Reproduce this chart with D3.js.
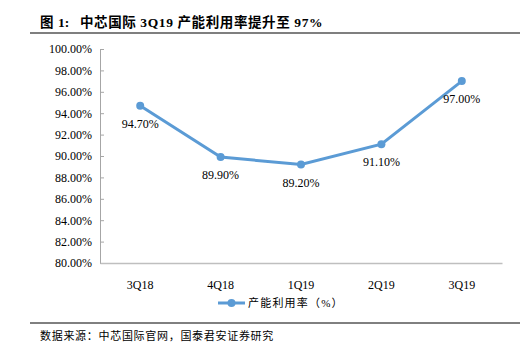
<!DOCTYPE html>
<html>
<head>
<meta charset="utf-8">
<script src="https://cdn.jsdelivr.net/npm/d3@7"></script>
<style>
  body { margin: 0; background: #fff; }
  svg text { font-family: "Liberation Serif", "Noto Sans CJK SC", serif; }
</style>
</head>
<body>
<div id="chart"></div>
<script>
// data
const quarters = ["3Q18", "4Q18", "1Q19", "2Q19", "3Q19"];
const utilization = [94.7, 89.9, 89.2, 91.1, 97.0];
const yTicks = [80, 82, 84, 86, 88, 90, 92, 94, 96, 98, 100];
const seriesName = "产能利用率（%）";
const titleParts = ["图", "1:", "中芯国际 3Q19 产能利用率提升至 97%"];
const sourceText = "数据来源：中芯国际官网，国泰君安证券研究";

const W = 527, H = 352;
const margin = { top: 49, left: 100, right: 25, bottom: 89 };
const color = "#5b9bd5";

const svg = d3.select("#chart").append("svg")
  .attr("width", W).attr("height", H);

// title + rules
const title = svg.append("text")
  .attr("y", 27)
  .attr("font-size", 13.5).attr("font-weight", "bold");
title.append("tspan").attr("x", 40).text(titleParts[0]);
title.append("tspan").attr("x", 58).text(titleParts[1]);
title.append("tspan").attr("x", 80).attr("letter-spacing", 0.6).text(titleParts[2]);

svg.append("line").attr("x1", 30).attr("x2", 520).attr("y1", 33).attr("y2", 33)
  .attr("stroke", "#000").attr("stroke-width", 1.2);
svg.append("line").attr("x1", 30).attr("x2", 520).attr("y1", 323).attr("y2", 323)
  .attr("stroke", "#000").attr("stroke-width", 1);
svg.append("text")
  .attr("x", 40).attr("y", 340)
  .attr("font-size", 11).attr("letter-spacing", 0.7)
  .text(sourceText);

const x = d3.scaleBand().domain(quarters).range([margin.left, W - margin.right]);
const y = d3.scaleLinear().domain([80, 100]).range([H - margin.bottom, margin.top]);

// y axis
const yAxis = svg.append("g")
  .attr("transform", `translate(${margin.left},0)`)
  .call(d3.axisRight(y).tickValues(yTicks).tickSize(4).tickFormat(d => d.toFixed(2) + "%"));
yAxis.select(".domain").attr("stroke", "#a6a6a6");
yAxis.selectAll(".tick line").attr("stroke", "#a6a6a6");
yAxis.selectAll(".tick text")
  .attr("x", -8).attr("text-anchor", "end")
  .attr("font-size", 12).attr("fill", "#000");

// x axis
const xAxis = svg.append("g")
  .attr("transform", `translate(0,${H - margin.bottom})`)
  .call(d3.axisBottom(x).tickSize(0).tickSizeOuter(0));
xAxis.select(".domain").attr("stroke", "#bfbfbf").attr("stroke-width", 1.5);
xAxis.selectAll(".tick text")
  .attr("dy", "1.9em")
  .attr("font-size", 12).attr("fill", "#000");

// line
const pts = quarters.map((q, i) => ({ q, v: utilization[i] }));
const cx = d => x(d.q) + x.bandwidth() / 2;

svg.append("path")
  .datum(pts)
  .attr("fill", "none")
  .attr("stroke", color)
  .attr("stroke-width", 3)
  .attr("d", d3.line().x(cx).y(d => y(d.v)));

svg.selectAll(".dot").data(pts).enter()
  .append("circle")
  .attr("cx", cx).attr("cy", d => y(d.v))
  .attr("r", 4).attr("fill", color);

svg.selectAll(".lbl").data(pts).enter()
  .append("text")
  .attr("x", cx).attr("y", d => y(d.v) + 22)
  .attr("text-anchor", "middle")
  .attr("font-size", 12)
  .text(d => d.v.toFixed(2) + "%");

// legend
const lg = svg.append("g").attr("transform", "translate(218,303)");
lg.append("line").attr("x1", 0).attr("x2", 27).attr("stroke", color).attr("stroke-width", 3);
lg.append("circle").attr("cx", 13.5).attr("r", 4).attr("fill", color);
lg.append("text").attr("x", 30).attr("y", 4)
  .attr("font-size", 11).attr("letter-spacing", 1.2)
  .text(seriesName);
</script>
</body>
</html>
